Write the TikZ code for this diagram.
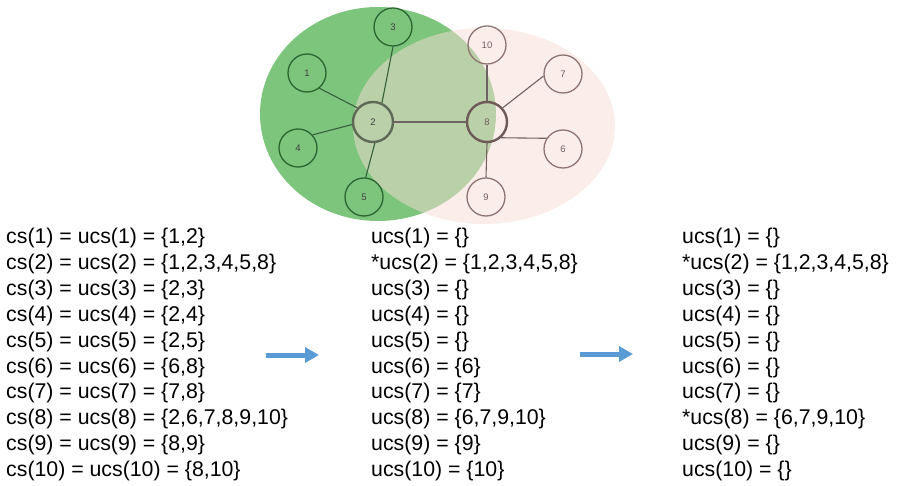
\documentclass[tikz,border=0pt]{standalone}
\usepackage{fontspec}
\setmainfont{Liberation Sans}
\usetikzlibrary{arrows.meta}

\definecolor{gfill}{HTML}{7DC47D}
\definecolor{pfill}{HTML}{F8DCD6}
\definecolor{gline}{HTML}{2B6531}
\definecolor{pline}{HTML}{8E7472}
\definecolor{hubg}{HTML}{5E6A55}
\definecolor{hubp}{HTML}{6E5A57}
\definecolor{edgeg}{HTML}{35603A}
\definecolor{edgep}{HTML}{6F6262}
\definecolor{arrowblue}{HTML}{5B9BD5}

\tikzset{
  vtx/.style={circle, minimum size=38pt, inner sep=0pt, line width=1.3pt,
              font=\fontsize{9.5}{10}\selectfont},
  gvtx/.style={vtx, draw=gline, text=black!75},
  pvtx/.style={vtx, draw=pline, text=pline!80!black},
  hub/.style={vtx, minimum size=40pt, line width=2.4pt},
  gedge/.style={draw=edgeg, line width=1.1pt},
  pedge/.style={draw=edgep, line width=1.1pt},
  txt/.style={inner sep=0pt, anchor=base west, font=\fontsize{21.3}{25}\selectfont},
  flow/.style={draw=arrowblue, line width=5pt,
               -{Triangle[length=14pt, width=15pt]}},
}

\begin{document}
\begin{tikzpicture}[x=1pt, y=-1pt]
  \useasboundingbox (0,0) rectangle (897,486);

  % two overlapping clusters
  \fill[gfill] (378,114) ellipse [x radius=118, y radius=107];
  \fill[pfill, opacity=0.5] (484,126) ellipse [x radius=131, y radius=98];

  % vertices
  \node[gvtx] (n1) at (307,73) {1};
  \node[gvtx, draw=hubg, hub] (n2) at (373,122) {2};
  \node[gvtx] (n3) at (393,27) {3};
  \node[gvtx] (n4) at (298,148) {4};
  \node[gvtx] (n5) at (364,197) {5};
  \node[pvtx] (n6) at (563,149) {6};
  \node[pvtx] (n7) at (563,74) {7};
  \node[pvtx, draw=hubp, hub] (n8) at (487,122) {8};
  \node[pvtx] (n9) at (486,197) {9};
  \node[pvtx] (n10) at (487,45) {10};

  % edges
  \draw[gedge] (n1.-51) -- (n2.138);
  \draw[gedge] (n4.42) -- (n2.187);
  \draw[gedge] (n3.-90) -- (n2.65);
  \draw[gedge] (n5.85) -- (n2.-85);
  \draw[pedge] (n2.0) -- (n8.180);
  \draw[pedge] (n10.-90) -- (n8.90);
  \draw[pedge] (n8.-90) -- (n9.90);
  \draw[pedge] (n8.42) -- (n7.186);
  \draw[pedge] (n8.-48) -- (n6.147);

  % initial core sets
  \foreach \t [count=\i] in {
    {cs(1) = ucs(1) = \{1,2\}},
    {cs(2) = ucs(2) = \{1,2,3,4,5,8\}},
    {cs(3) = ucs(3) = \{2,3\}},
    {cs(4) = ucs(4) = \{2,4\}},
    {cs(5) = ucs(5) = \{2,5\}},
    {cs(6) = ucs(6) = \{6,8\}},
    {cs(7) = ucs(7) = \{7,8\}},
    {cs(8) = ucs(8) = \{2,6,7,8,9,10\}},
    {cs(9) = ucs(9) = \{8,9\}},
    {cs(10) = ucs(10) = \{8,10\}}}
    \node[txt] (a\i) at (6,{244+25.8*(\i-1)}) {\t};

  % after first pass
  \foreach \t [count=\i] in {
    {ucs(1) = \{\}},
    {*ucs(2) = \{1,2,3,4,5,8\}},
    {ucs(3) = \{\}},
    {ucs(4) = \{\}},
    {ucs(5) = \{\}},
    {ucs(6) = \{6\}},
    {ucs(7) = \{7\}},
    {ucs(8) = \{6,7,9,10\}},
    {ucs(9) = \{9\}},
    {ucs(10) = \{10\}}}
    \node[txt] (b\i) at (371,{244+25.8*(\i-1)}) {\t};

  % after second pass
  \foreach \t [count=\i] in {
    {ucs(1) = \{\}},
    {*ucs(2) = \{1,2,3,4,5,8\}},
    {ucs(3) = \{\}},
    {ucs(4) = \{\}},
    {ucs(5) = \{\}},
    {ucs(6) = \{\}},
    {ucs(7) = \{\}},
    {*ucs(8) = \{6,7,9,10\}},
    {ucs(9) = \{\}},
    {ucs(10) = \{\}}}
    \node[txt] (c\i) at (682,{244+25.8*(\i-1)}) {\t};

  % transitions
  \coordinate (f1s) at (266,355);
  \coordinate (f1e) at (319,355);
  \coordinate (f2s) at (580,354);
  \coordinate (f2e) at (633,354);
  \draw[flow] (f1s) -- (f1e);
  \draw[flow] (f2s) -- (f2e);
\end{tikzpicture}
\end{document}
